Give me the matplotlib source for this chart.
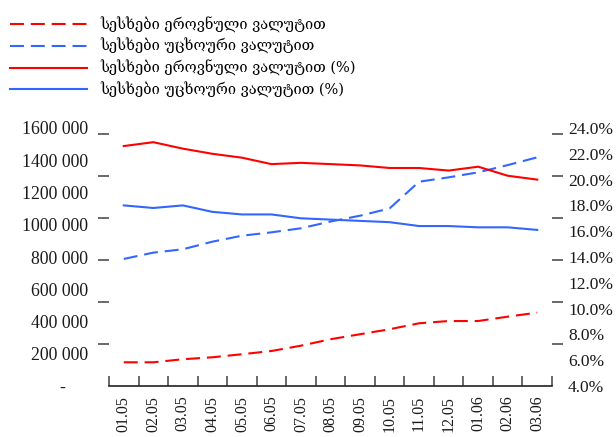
import numpy as np
import matplotlib
matplotlib.use("Agg")
import matplotlib.pyplot as plt
from matplotlib.ticker import FixedLocator, FuncFormatter

# Monthly periods
months = ["01.05", "02.05", "03.05", "04.05", "05.05", "06.05", "07.05", "08.05",
          "09.05", "10.05", "11.05", "12.05", "01.06", "02.06", "03.06"]

# Loan volumes (left axis)
loans_national = [147000, 147000, 166000, 178000, 197000, 217000, 250000, 290000,
                  321000, 352000, 389000, 403000, 403000, 430000, 455000]
loans_foreign = [788000, 827000, 848000, 895000, 932000, 953000, 978000, 1020000,
                 1056000, 1101000, 1267000, 1294000, 1325000, 1370000, 1418000]

# Shares in percent (right axis)
share_national = [22.6, 22.9, 22.4, 22.0, 21.7, 21.2, 21.3, 21.2,
                  21.1, 20.9, 20.9, 20.7, 21.0, 20.3, 20.0]
share_foreign = [18.0, 17.8, 18.0, 17.5, 17.3, 17.3, 17.0, 16.9,
                 16.8, 16.7, 16.4, 16.4, 16.3, 16.3, 16.1]

legend_labels = ["სესხები ეროვნული ვალუტით",
                 "სესხები უცხოური ვალუტით",
                 "სესხები ეროვნული ვალუტით (%)",
                 "სესხები უცხოური ვალუტით (%)"]

RED = "#ff0000"
BLUE = "#3366ff"
TICK = "#404040"
TXT = "#1a1a1a"
num_font = "Liberation Serif"
geo_font = ["DejaVu Serif", "DejaVu Sans"]

fig = plt.figure(figsize=(6.16, 4.37), dpi=100)
W, H = 616, 437
ax = fig.add_axes([109 / W, (H - 386) / H, 443 / W, 258 / H])
ax2 = ax.twinx()

x = np.arange(len(months))
dash = (6.7, 3.3)
l1, = ax.plot(x, loans_national, color=RED, lw=1.5, dashes=dash)
l2, = ax.plot(x, loans_foreign, color=BLUE, lw=1.5, dashes=dash)
l3, = ax2.plot(x, share_national, color=RED, lw=1.5)
l4, = ax2.plot(x, share_foreign, color=BLUE, lw=1.5)

ax.set_xlim(-0.5, len(months) - 0.5)
ax.set_ylim(0, 1600000)
ax2.set_ylim(4, 24)

for a in (ax, ax2):
    for s in ("left", "right", "top", "bottom"):
        a.spines[s].set_visible(False)
ax.spines["bottom"].set_visible(True)
ax.spines["bottom"].set_color("#222222")
ax.spines["bottom"].set_linewidth(1.2)

# x axis: labels at category centres, tick marks on category boundaries
ax.set_xticks(x)
ax.set_xticklabels(months, rotation=90, fontfamily=num_font, fontsize=11.5, color=TXT)
ax.xaxis.set_minor_locator(FixedLocator(np.arange(len(months) + 1) - 0.5))
ax.tick_params(axis="x", which="major", length=0, pad=7)
ax.tick_params(axis="x", which="minor", direction="in", length=7, width=1.1, color=TICK)

# left axis
left_ticks = np.arange(0, 1600001, 200000)
ax.yaxis.set_major_locator(FixedLocator(left_ticks))
ax.yaxis.set_major_formatter(FuncFormatter(
    lambda v, p: "-     " if v == 0 else f"{int(v) // 1000} 000"))
ax.yaxis.set_minor_locator(FixedLocator(np.arange(7) * 1600000 * 42 / 258))
ax.tick_params(axis="y", which="major", length=0, pad=15)
ax.tick_params(axis="y", which="minor", direction="out", length=8, width=1.1, color=TICK)
for t in ax.get_yticklabels():
    t.set_fontfamily(num_font)
    t.set_fontsize(12.8)
    t.set_color(TXT)

# right axis
ax2.yaxis.set_major_locator(FixedLocator(np.arange(4, 24.01, 2)))
ax2.yaxis.set_major_formatter(FuncFormatter(lambda v, p: f"{v:.1f}%"))
ax2.yaxis.set_minor_locator(FixedLocator(4 + np.arange(7) * 20 * 42 / 258))
ax2.tick_params(axis="y", which="major", length=0, pad=11.5)
ax2.tick_params(axis="y", which="minor", direction="out", length=8, width=1.1, color=TICK)
for t in ax2.get_yticklabels():
    t.set_fontfamily(num_font)
    t.set_fontsize(12.5)
    t.set_color(TXT)

fig.legend([l1, l2, l3, l4], legend_labels, loc="upper left",
           bbox_to_anchor=(0.0, 0.985), frameon=False,
           prop={"family": geo_font, "size": 10.5},
           handlelength=5.3, handletextpad=0.85, labelspacing=0.38,
           borderaxespad=0.3)

fig.savefig("out.png", dpi=100)
